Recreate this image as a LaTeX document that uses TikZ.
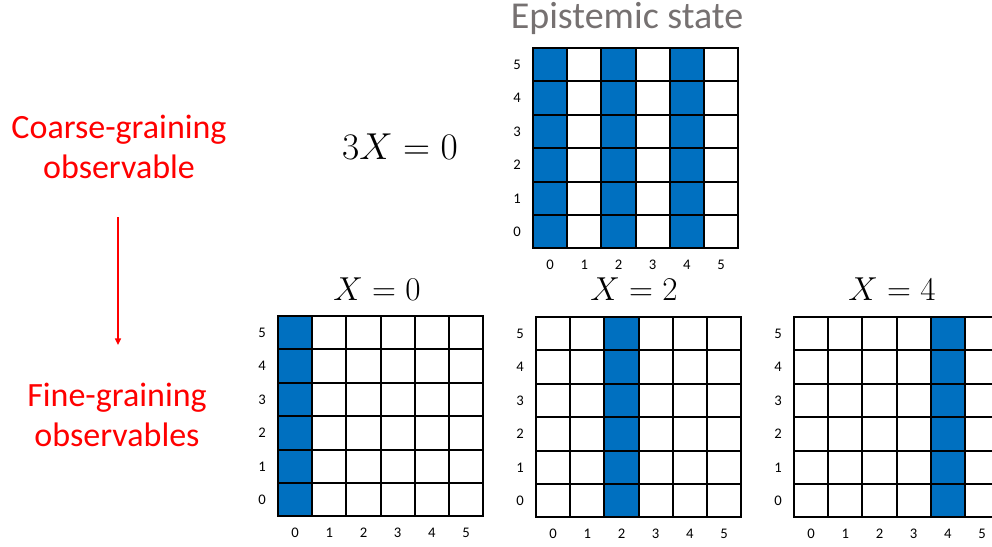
\documentclass[tikz,border=0pt]{standalone}
\usepackage{fontspec}
\setmainfont{Carlito}
\usepackage{amsmath}
\usetikzlibrary{arrows.meta,positioning}
\definecolor{cellblue}{RGB}{0,112,192}
\definecolor{headgray}{RGB}{118,113,113}
\definecolor{obsred}{RGB}{255,0,0}
\tikzset{
  x=0.75pt, y=-0.75pt,
  gridline/.style={draw=black, line width=1.6pt, line cap=rect},
  tick/.style={font=\fontsize{11}{13}\selectfont, inner sep=0pt},
  head/.style={font=\fontsize{28.5}{33}\selectfont, text=headgray, anchor=base},
  eqn/.style={font=\fontsize{24.88}{30}\selectfont, anchor=base},
  obs/.style={font=\fontsize{25.5}{29.5}\selectfont, text=obsred, align=center},
  flow/.style={-{Triangle[length=5pt,width=4.5pt]}, draw=obsred, line width=1.1pt},
}
% one 6x6 grid: #1 name, #2 left, #3 top, #4 filled columns
\newcommand{\stategrid}[4]{%
  \foreach \c in {#4} \fill[cellblue] ({#2+\c*34.2},#3) rectangle ++(34.2,200.4);
  \foreach \i in {0,...,6} {
    \draw[gridline] ({#2+\i*34.2},#3) -- ++(0,200.4);
    \draw[gridline] (#2,{#3+\i*33.4}) -- ++(205.2,0);
  }
  \foreach \i in {0,...,5} {
    \node[tick] (#1-r\i) at ({#2-16},{#3+(5-\i)*33.4+16.7}) {\i};
    \node[tick] (#1-c\i) at ({#2+\i*34.2+17.1},{#3+200.4+16}) {\i};
  }
}
\begin{document}
\begin{tikzpicture}
  \clip (0,0) rectangle (992,546);
  % coarse state on top, the three fine states below
  \node[head] (state) at (627,28) {Epistemic state};
  \stategrid{top}{533}{48}{0,2,4}
  \node[eqn] (coarse eq) at (400,159) {\scalebox{1.13}{$3X = 0$}};

  \stategrid{fa}{278}{316}{0}
  \stategrid{fb}{536}{317}{2}
  \stategrid{fc}{794}{317}{4}
  \node[eqn] (eq a) at (377,300) {$X = 0$};
  \node[eqn] (eq b) at (634,300) {$X = 2$};
  \node[eqn] (eq c) at (892,300) {$X = 4$};

  \node[obs] (coarse) at (119,147) {Coarse-graining\\observable};
  \node[obs] (fine) at (117,415) {Fine-graining\\observables};
  \coordinate (arr top) at (118,217);
  \coordinate (arr bot) at (118,345);
  \draw[flow] (arr top) -- (arr bot);
\end{tikzpicture}
\end{document}
